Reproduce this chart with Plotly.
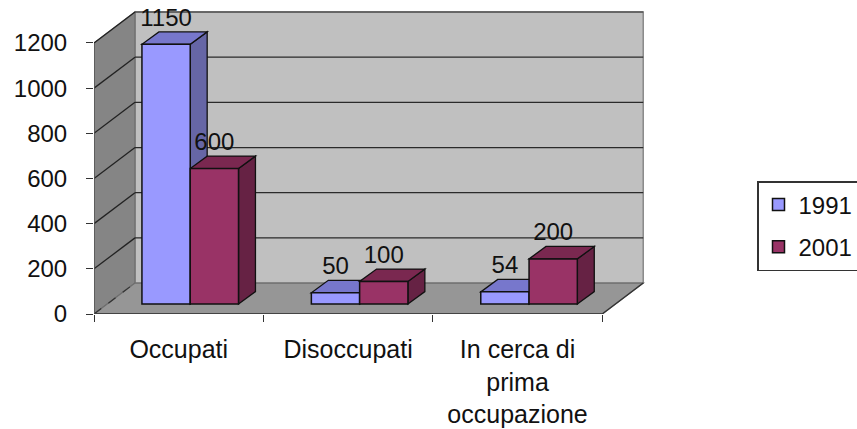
import plotly.graph_objects as go

categories = ["Occupati", "Disoccupati", "In cerca di<br>prima<br>occupazione"]
series_names = ["1991", "2001"]
values_1991 = [1150, 50, 54]
values_2001 = [600, 100, 200]
y_ticks = [0, 200, 400, 600, 800, 1000, 1200]

FONT = "Liberation Sans, Arial, sans-serif"
WALL_DX, WALL_DY = 0.242, 137   # wall depth, in axis units
BAR_DX, BAR_DY = 0.100, 55      # bar depth, in axis units
BAR_BASE = 44                   # bars stand part-way back on the floor
BAR_START, BAR_W = 0.283, 0.285

front_cols = {"1991": "#9999FF", "2001": "#993366"}
top_cols = {"1991": "#7777CC", "2001": "#7A2850"}
side_cols = {"1991": "#6666A6", "2001": "#662244"}


def poly(pts, fill, line="rgba(0,0,0,0)", width=0, dash="solid"):
    path = "M " + " L ".join(f"{x},{y}" for x, y in pts) + " Z"
    return dict(type="path", path=path, xref="x", yref="y", layer="below",
                fillcolor=fill, line=dict(color=line, width=width, dash=dash))


def seg(x0, y0, x1, y1, color="#222222", width=1.3, dash="solid"):
    return dict(type="line", x0=x0, y0=y0, x1=x1, y1=y1, xref="x", yref="y",
                layer="below", line=dict(color=color, width=width, dash=dash))


n = len(categories)
top = y_ticks[-1]
shapes = [
    poly([(WALL_DX, WALL_DY), (n + WALL_DX, WALL_DY), (n + WALL_DX, top + WALL_DY), (WALL_DX, top + WALL_DY)],
         "#C0C0C0", "#8A8A8A", 1.5),
    poly([(0, 0), (WALL_DX, WALL_DY), (WALL_DX, top + WALL_DY), (0, top)], "#858585", "#6E6E6E", 1.2),
    poly([(0, 0), (n, 0), (n + WALL_DX, WALL_DY), (WALL_DX, WALL_DY)], "#969696", "#6E6E6E", 1.2),
]
for t in y_ticks[1:]:
    shapes.append(seg(WALL_DX, t + WALL_DY, n + WALL_DX, t + WALL_DY, "#2A2A2A" if t < top else "#555555"))
    shapes.append(seg(0, t, WALL_DX, t + WALL_DY))
shapes.append(seg(0, 0, WALL_DX, WALL_DY, "#333333", 1.2, "dash"))
shapes.append(seg(0, 0, 0, top, "#555555", 1.5))
shapes.append(seg(0, 0, n, 0, "#444444", 2.2))
shapes.append(seg(n, 0, n + WALL_DX, WALL_DY, "#333333", 1.3))

fig = go.Figure()
label_x, label_y, label_t = [], [], []
for k, (name, vals) in enumerate(zip(series_names, [values_1991, values_2001])):
    xs = [i + BAR_START + (k + 0.5) * BAR_W for i in range(n)]
    fig.add_trace(go.Bar(
        x=xs, y=vals, base=BAR_BASE, width=BAR_W, name=name,
        legendgroup=name,
        marker=dict(color=front_cols[name], line=dict(color="#111111", width=1.5)),
    ))
    for x, v in zip(xs, vals):
        x0, x1 = x - BAR_W / 2, x + BAR_W / 2
        y0, y1 = BAR_BASE, BAR_BASE + v
        shapes.append(poly([(x1, y0), (x1 + BAR_DX, y0 + BAR_DY), (x1 + BAR_DX, y1 + BAR_DY), (x1, y1)],
                           side_cols[name], "#111111", 1.3))
        shapes.append(poly([(x0, y1), (x1, y1), (x1 + BAR_DX, y1 + BAR_DY), (x0 + BAR_DX, y1 + BAR_DY)],
                           top_cols[name], "#111111", 1.3))
        label_x.append(x)
        label_y.append(y1 + BAR_DY)
        label_t.append(str(v))

fig.add_trace(go.Scatter(
    x=label_x, y=label_y, text=label_t, mode="text", textposition="top center",
    textfont=dict(family=FONT, size=24, color="#111111"),
    showlegend=False, hoverinfo="skip", cliponaxis=False,
))

fig.update_layout(
    width=857, height=429,
    margin=dict(l=94, r=857 - 94 - 576, t=5, b=115, autoexpand=False),
    paper_bgcolor="white", plot_bgcolor="white",
    barmode="overlay",
    shapes=shapes,
    font=dict(family=FONT, size=24, color="#111111"),
    legend=dict(
        xref="container", yref="container", x=757 / 857, y=1 - 181 / 429,
        xanchor="left", yanchor="top",
        bordercolor="#333333", borderwidth=1.5, bgcolor="white",
        font=dict(family=FONT, size=24, color="#111111"),
        tracegroupgap=8, traceorder="grouped",
    ),
    xaxis=dict(
        range=[0, 3.4], tickmode="array",
        tickvals=[i + 0.5 for i in range(n)], ticktext=categories,
        tickfont=dict(family=FONT, size=25, color="#111111"),
        ticks="", showgrid=False, zeroline=False, showline=False,
        ticklabelstandoff=18, tickangle=0,
        minor=dict(tickmode="array", tickvals=list(range(n + 1)), ticks="outside",
                   ticklen=7, tickwidth=1.3, tickcolor="#333333", showgrid=False),
    ),
    yaxis=dict(
        range=[0, 1368], tickmode="array", tickvals=y_ticks,
        ticks="outside", ticklen=7, tickwidth=1.3, tickcolor="#333333",
        showgrid=False, zeroline=False, showline=False, ticklabelstandoff=14,
    ),
)
fig.write_html("out.html", config={"displayModeBar": False},
               post_script="document.body.style.margin='0';document.body.style.overflow='hidden';")
